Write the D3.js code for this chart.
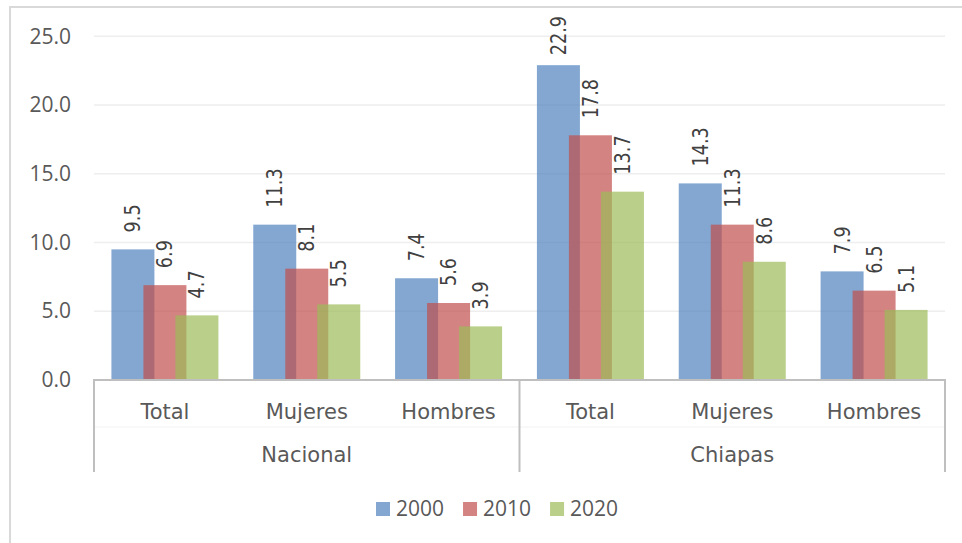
<!DOCTYPE html>
<html>
<head>
<meta charset="utf-8">
<script src="https://cdn.jsdelivr.net/npm/d3@7"></script>
<style>
  html, body { margin: 0; padding: 0; background: #fff; }
  svg { display: block; }
</style>
</head>
<body>
<div id="chart"></div>
<script>
const groups = ['Nacional', 'Chiapas'];
const subcats = ['Total', 'Mujeres', 'Hombres'];
const years = ['2000', '2010', '2020'];
const v2000 = [9.5, 11.3, 7.4, 22.9, 14.3, 7.9];
const v2010 = [6.9, 8.1, 5.6, 17.8, 11.3, 6.5];
const v2020 = [4.7, 5.5, 3.9, 13.7, 8.6, 5.1];
const yTicks = [0, 5, 10, 15, 20, 25];
const colors = ['#4f81bd', '#c0504d', '#9bbb59'];

const width = 962, height = 543;
const plot = { left: 94, right: 945, top: 36.3, bottom: 380 };

const svg = d3.select('#chart').append('svg')
  .attr('width', width)
  .attr('height', height);

// outer frame (only left and top visible in the crop)
svg.append('path')
  .attr('d', `M10,${height} L10,7 L${width},7`)
  .attr('fill', 'none')
  .attr('stroke', '#d9d9d9')
  .attr('stroke-width', 2);

const cats = [];
groups.forEach(g => subcats.forEach(s => cats.push(g + '|' + s)));
const series = [v2000, v2010, v2020];

const y = d3.scaleLinear().domain([0, 25]).range([plot.bottom, plot.top]);
const x = d3.scaleBand().domain(cats).range([plot.left, plot.right]).padding(0);
const xg = d3.scaleBand().domain(groups).range([plot.left, plot.right]).padding(0);
const off = d3.scalePoint().domain(years).range([-32, 32]);
const barW = 43;

// gridlines
svg.append('g')
  .selectAll('line')
  .data(yTicks.filter(t => t > 0))
  .join('line')
  .attr('x1', plot.left).attr('x2', plot.right)
  .attr('y1', d => y(d)).attr('y2', d => y(d))
  .attr('stroke', '#eeeeee')
  .attr('stroke-width', 1.5);

// y axis labels
const yAxis = svg.append('g')
  .attr('transform', 'translate(71,0)')
  .call(d3.axisLeft(y).tickValues(yTicks).tickFormat(d3.format('.1f')).tickSize(0).tickPadding(0));
yAxis.select('.domain').remove();
yAxis.selectAll('text')
  .attr('font-family', '"Open Sans", sans-serif')
  .attr('font-size', 21)
  .attr('fill', '#595959');

// bars
years.forEach((yr, si) => {
  svg.append('g')
    .selectAll('rect')
    .data(series[si])
    .join('rect')
    .attr('x', (d, i) => x(cats[i]) + x.bandwidth() / 2 + off(yr) - barW / 2)
    .attr('y', d => y(d))
    .attr('width', barW)
    .attr('height', d => y(0) - y(d))
    .attr('fill', colors[si])
    .attr('fill-opacity', 0.7);
});

// data labels (rotated)
const labelScale = 0.84;
years.forEach((yr, si) => {
  svg.append('g')
    .selectAll('text')
    .data(series[si])
    .join('text')
    .text(d => d3.format('.1f')(d))
    .attr('font-family', '"DejaVu Sans", sans-serif')
    .attr('font-size', 21)
    .attr('fill', '#404040')
    .attr('dy', '0.36em')
    .each(function(d, i) {
      const len = this.getComputedTextLength() * labelScale;
      const cx = x(cats[i]) + x.bandwidth() / 2 + off(yr);
      let start = y(d) - 17;
      if (start - len < 16) start = 16 + len;
      d3.select(this).attr('transform', `translate(${cx},${start}) rotate(-90) scale(${labelScale},1)`);
    });
});

// category axis
const axisG = svg.append('g');
axisG.append('line')
  .attr('x1', plot.left - 1).attr('x2', plot.right + 1)
  .attr('y1', plot.bottom).attr('y2', plot.bottom)
  .attr('stroke', '#bfbfbf').attr('stroke-width', 2);
axisG.append('line')
  .attr('x1', plot.left).attr('x2', plot.right)
  .attr('y1', 427).attr('y2', 427)
  .attr('stroke', '#f2f2f2').attr('stroke-width', 1);
axisG.selectAll('.sep')
  .data([...groups.map(g => xg(g)), plot.right])
  .join('line')
  .attr('class', 'sep')
  .attr('x1', d => d).attr('x2', d => d)
  .attr('y1', plot.bottom).attr('y2', 472)
  .attr('stroke', '#bfbfbf').attr('stroke-width', 2);

axisG.selectAll('.cat')
  .data(cats)
  .join('text')
  .attr('class', 'cat')
  .attr('x', d => x(d) + x.bandwidth() / 2)
  .attr('y', 419)
  .attr('text-anchor', 'middle')
  .attr('font-family', '"DejaVu Sans", sans-serif')
  .attr('font-size', 21)
  .attr('fill', '#595959')
  .text(d => d.split('|')[1]);

axisG.selectAll('.grp')
  .data(groups)
  .join('text')
  .attr('class', 'grp')
  .attr('x', d => xg(d) + xg.bandwidth() / 2)
  .attr('y', 462)
  .attr('text-anchor', 'middle')
  .attr('font-family', '"DejaVu Sans", sans-serif')
  .attr('font-size', 21)
  .attr('fill', '#595959')
  .text(d => d);

// legend
const legend = svg.append('g');
let lx = 376;
years.forEach((yr, si) => {
  legend.append('rect')
    .attr('x', lx).attr('y', 502)
    .attr('width', 14).attr('height', 14)
    .attr('fill', colors[si]).attr('fill-opacity', 0.7);
  const t = legend.append('text')
    .attr('x', lx + 20).attr('y', 516)
    .attr('font-family', '"Open Sans", sans-serif')
    .attr('font-size', 21)
    .attr('fill', '#595959')
    .text(yr);
  lx += 20 + t.node().getComputedTextLength() + 19;
});
</script>
</body>
</html>
